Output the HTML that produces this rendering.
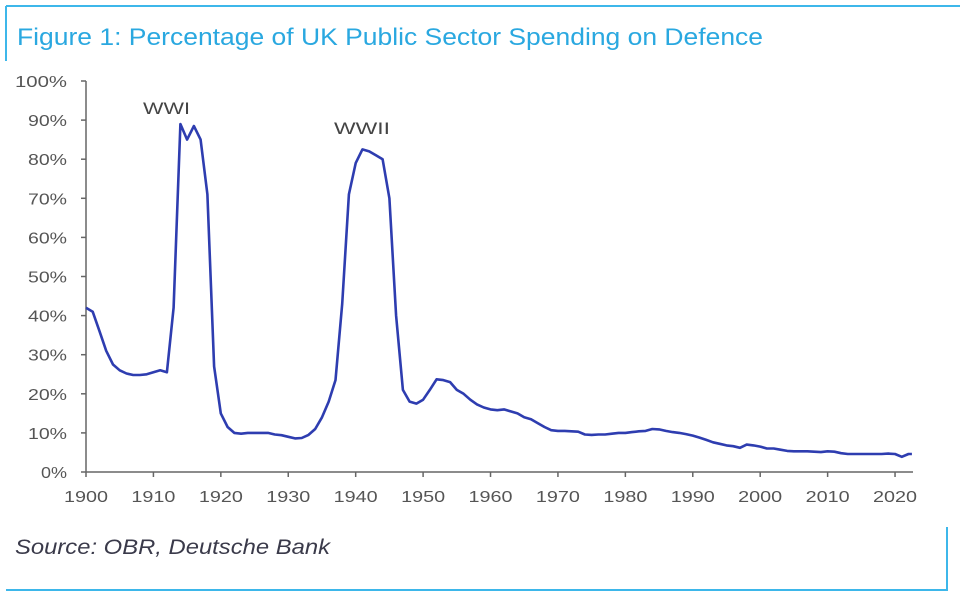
<!DOCTYPE html>
<html><head><meta charset="utf-8"><style>
html,body{margin:0;padding:0;background:#fff;}
svg{display:block;font-family:"Liberation Sans",sans-serif;}
</style></head><body>
<svg width="960" height="601" viewBox="0 0 960 601">
<line x1="6" y1="6" x2="960" y2="6" stroke="#3db7ea" stroke-width="2"/>
<line x1="6" y1="6" x2="6" y2="61" stroke="#3db7ea" stroke-width="2"/>
<line x1="6" y1="590" x2="948" y2="590" stroke="#3db7ea" stroke-width="2"/>
<line x1="947" y1="527" x2="947" y2="590" stroke="#3db7ea" stroke-width="2"/>
<text x="17" y="45" font-size="24" fill="#2aa8e0" textLength="746" lengthAdjust="spacingAndGlyphs">Figure 1: Percentage of UK Public Sector Spending on Defence</text>
<text x="15" y="554" font-size="21" font-style="italic" fill="#3a3a4a" textLength="315" lengthAdjust="spacingAndGlyphs">Source: OBR, Deutsche Bank</text>
<g id="ax" stroke="#666" stroke-width="1.5" fill="none"></g>
<g id="lbl" font-size="16" fill="#555"></g>
<text x="143" y="114" font-size="17" fill="#444" textLength="47" lengthAdjust="spacingAndGlyphs">WWI</text>
<text x="334" y="134" font-size="17" fill="#444" textLength="56" lengthAdjust="spacingAndGlyphs">WWII</text>
<polyline id="ln" fill="none" stroke="#2e3db0" stroke-width="2.6" stroke-linejoin="round"/>
</svg>
<script>
var X=function(y){return 86+(y-1900)*6.742;},Y=function(v){return 472-v*3.91;};
var ax=document.getElementById('ax'),lb=document.getElementById('lbl'),ns='http://www.w3.org/2000/svg';
function el(p,t,a,txt){var e=document.createElementNS(ns,t);for(var k in a)e.setAttribute(k,a[k]);if(txt)e.textContent=txt;p.appendChild(e);}
el(ax,'line',{x1:86,y1:Y(100),x2:86,y2:472});
el(ax,'line',{x1:86,y1:472,x2:913,y2:472});
for(var i=0;i<=10;i++){var y=Y(i*10);el(ax,'line',{x1:81,y1:y,x2:86,y2:y});var s=(i*10)+'%';el(lb,'text',{x:67,y:y+6,'text-anchor':'end',textLength:s.length*13,lengthAdjust:'spacingAndGlyphs'},s);}
for(var d=1900;d<=2020;d+=10){var x=X(d);el(ax,'line',{x1:x,y1:472,x2:x,y2:477});el(lb,'text',{x:x-22,y:502,textLength:44,lengthAdjust:'spacingAndGlyphs'},''+d);}
var v={1900:42,1901:41,1902:36,1903:31,1904:27.5,1905:26,1906:25.2,1907:24.8,1908:24.8,1909:25,1910:25.5,1911:26,1912:25.5,1913:42,1914:89,1915:85,1916:88.5,1917:85,1918:71,1919:27,1920:15,1921:11.5,1922:10,1923:9.8,1924:10,1925:10,1926:10,1927:10,1928:9.6,1929:9.4,1930:9,1931:8.6,1932:8.7,1933:9.5,1934:11,1935:14,1936:18,1937:23.5,1938:43,1939:71,1940:79,1941:82.5,1942:82,1943:81,1944:80,1945:70,1946:40,1947:21,1948:18,1949:17.5,1950:18.5,1951:21,1952:23.7,1953:23.5,1954:23,1955:21,1956:20,1957:18.5,1958:17.3,1959:16.5,1960:16,1961:15.8,1962:16,1963:15.5,1964:15,1965:14,1966:13.5,1967:12.5,1968:11.5,1969:10.7,1970:10.5,1971:10.5,1972:10.4,1973:10.3,1974:9.6,1975:9.5,1976:9.6,1977:9.6,1978:9.8,1979:10,1980:10,1981:10.2,1982:10.4,1983:10.5,1984:11,1985:10.9,1986:10.5,1987:10.2,1988:10,1989:9.7,1990:9.3,1991:8.8,1992:8.2,1993:7.6,1994:7.2,1995:6.8,1996:6.6,1997:6.2,1998:7,1999:6.8,2000:6.5,2001:6,2002:6,2003:5.7,2004:5.4,2005:5.3,2006:5.3,2007:5.3,2008:5.2,2009:5.1,2010:5.3,2011:5.2,2012:4.8,2013:4.6,2014:4.6,2015:4.6,2016:4.6,2017:4.6,2018:4.6,2019:4.7,2020:4.6,2021:3.9,2022:4.6,2022.5:4.6};
var pts=[];Object.keys(v).map(Number).sort(function(a,b){return a-b;}).forEach(function(k){pts.push(X(k).toFixed(1)+','+Y(v[k]).toFixed(1));});
document.getElementById('ln').setAttribute('points',pts.join(' '));
</script>
</body></html>
